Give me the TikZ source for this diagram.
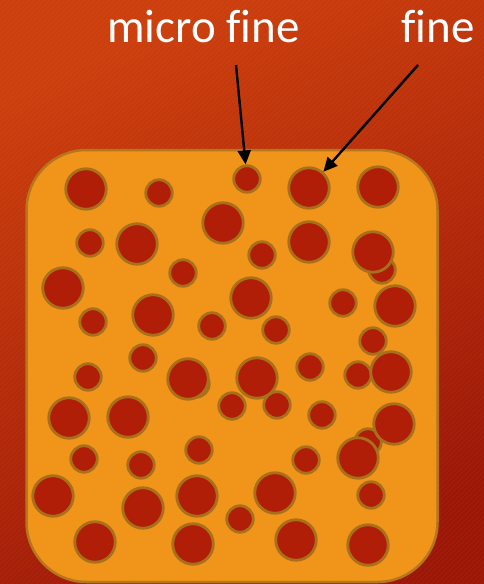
\documentclass[tikz,border=0pt]{standalone}
\usepackage{fontspec}
\setmainfont[Ligatures=NoCommon]{Carlito}
\usetikzlibrary{arrows.meta}
\definecolor{bgA}{RGB}{204,62,12}
\definecolor{bgB}{RGB}{156,22,6}
\definecolor{slab}{RGB}{240,149,26}
\definecolor{slabedge}{RGB}{182,118,28}
\definecolor{porefill}{RGB}{176,30,8}
\definecolor{poreedge}{RGB}{168,112,26}
\tikzset{
  pore/.style={circle, draw=poreedge, fill=porefill, line width=2.8pt, inner sep=0pt},
  big/.style={pore, minimum size=40.5pt},
  small/.style={pore, minimum size=26.5pt},
  lbl/.style={text=white, font=\fontsize{47}{56}\selectfont, anchor=base, inner sep=0pt},
  pointer/.style={draw=black, line width=2.4pt, -{Triangle[length=14pt,width=13pt]}}
}
\begin{document}
\begin{tikzpicture}[x=1pt,y=-1pt]
\useasboundingbox (0,0) rectangle (484,584);
% background
\shade[left color=bgA, right color=bgB, shading angle=25] (0,0) rectangle (484,584);
\begin{scope}
\clip (0,0) rectangle (484,584);
\foreach \i in {0,5,...,1080} {
  \draw[white, opacity=0.035, line width=1.2pt] (\i-590,590) -- (\i,0);
}
\end{scope}
% slab
\node[draw=slabedge, fill=slab, line width=2.5pt, rounded corners=60pt,
      minimum width=411pt, minimum height=432pt, inner sep=0pt] (slab) at (232,366) {};
% pores (hidden ones first)
\node[small] (h1) at (382,270) {};
\node[small] (h2) at (196,384) {};
\node[small] (h3) at (368,442) {};
\node[small] (h4) at (358,375) {};
\node[big] (p1) at (86,189) {};
\node[small] (p2) at (159,193) {};
\node[small] (micro) at (247,179) {};
\node[big] (fine) at (309,188) {};
\node[big] (p5) at (378,187) {};
\node[big] (p6) at (223,223) {};
\node[small] (p7) at (90,243) {};
\node[big] (p8) at (137,244) {};
\node[big] (p9) at (309,242) {};
\node[small] (p10) at (262,255) {};
\node[big] (p11) at (373,252) {};
\node[small] (p12) at (183,273) {};
\node[big] (p13) at (63,288) {};
\node[big] (p14) at (251,298) {};
\node[small] (p15) at (343,303) {};
\node[big] (p16) at (395,306) {};
\node[small] (p17) at (93,322) {};
\node[big] (p18) at (153,315) {};
\node[small] (p19) at (212,326) {};
\node[small] (p20) at (276,330) {};
\node[small] (p21) at (373,341) {};
\node[small] (p22) at (143,358) {};
\node[small] (p23) at (88,377) {};
\node[big] (p24) at (188,379) {};
\node[big] (p25) at (257,378) {};
\node[small] (p26) at (310,367) {};
\node[big] (p27) at (391,372) {};
\node[small] (p28) at (232,406) {};
\node[small] (p29) at (277,405) {};
\node[big] (p30) at (69,418) {};
\node[big] (p31) at (128,417) {};
\node[small] (p32) at (322,415) {};
\node[big] (p33) at (394,424) {};
\node[small] (p34) at (199,450) {};
\node[small] (p35) at (84,459) {};
\node[small] (p36) at (141,465) {};
\node[small] (p37) at (306,460) {};
\node[big] (p38) at (358,458) {};
\node[big] (p39) at (53,496) {};
\node[big] (p40) at (143,508) {};
\node[big] (p41) at (197,496) {};
\node[big] (p42) at (275,493) {};
\node[small] (p43) at (371,495) {};
\node[small] (p44) at (240,519) {};
\node[big] (p45) at (95,542) {};
\node[big] (p46) at (193,544) {};
\node[big] (p47) at (296,540) {};
\node[big] (p48) at (368,545) {};
% labels
\node[lbl] (lmicro) at (203.5,42) {micro fine};
\node[lbl] (lfine) at (438,42) {fine};
\coordinate (smicro) at (236,65);
\coordinate (sfine) at (418,65);
\draw[pointer] (smicro) -- (micro);
\draw[pointer] (sfine) -- (fine);
\end{tikzpicture}
\end{document}
